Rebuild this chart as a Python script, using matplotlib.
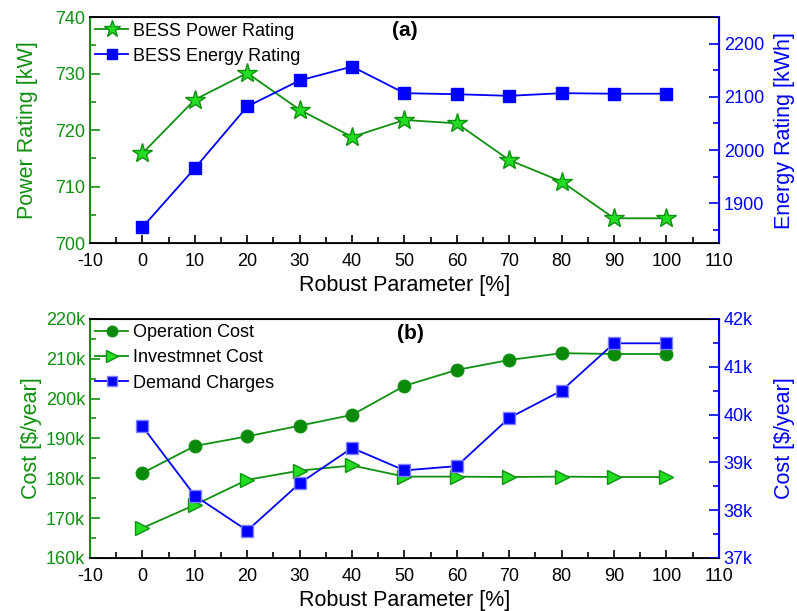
import matplotlib.pyplot as plt
from matplotlib.ticker import MultipleLocator, FuncFormatter

plt.rcParams['font.family'] = ['Liberation Sans', 'DejaVu Sans']
plt.rcParams['axes.unicode_minus'] = False

robust = [0, 10, 20, 30, 40, 50, 60, 70, 80, 90, 100]

# (a) BESS ratings
power_kw = [715.9, 725.4, 730.1, 723.6, 718.8, 721.8, 721.2, 714.7, 710.9, 704.4, 704.4]
energy_kwh = [1855, 1966, 2082, 2131, 2157, 2107, 2105, 2102, 2107, 2106, 2106]

# (b) costs, in $k/year
operation_cost = [181.3, 188.1, 190.5, 193.2, 195.9, 203.2, 207.2, 209.7, 211.4, 211.2, 211.2]
investment_cost = [167.5, 173.3, 179.6, 181.9, 183.2, 180.4, 180.4, 180.3, 180.4, 180.3, 180.3]
demand_charges = [39.75, 38.30, 37.57, 38.56, 39.30, 38.83, 38.92, 39.93, 40.50, 41.49, 41.49]

GREEN = '#109010'
LIGHT = '#22dd22'
BLUE = '#0000ff'
kfmt = FuncFormatter(lambda v, p: '%dk' % round(v))

fig = plt.figure(figsize=(7.97, 6.11), dpi=100)
ax1 = fig.add_axes([0.113, 0.602, 0.789, 0.370])
ax3 = fig.add_axes([0.113, 0.087, 0.789, 0.391])


def style(ax, twin, left_col, right_col):
    ax.spines['left'].set_color(left_col)
    ax.spines['left'].set_linewidth(1.5)
    twin.spines['right'].set_color(right_col)
    twin.spines['right'].set_linewidth(1.5)
    twin.spines['left'].set_visible(False)
    for s in ('top', 'bottom'):
        ax.spines[s].set_linewidth(1.3)
    ax.set_xlim(-10, 110)
    ax.xaxis.set_major_locator(MultipleLocator(10))
    ax.xaxis.set_minor_locator(MultipleLocator(5))
    ax.tick_params(axis='x', which='both', direction='in', labelsize=13, pad=7)
    ax.tick_params(axis='x', which='major', length=6, width=1.2)
    ax.tick_params(axis='x', which='minor', length=4, width=1.2)
    ax.tick_params(axis='y', which='both', direction='in', colors=left_col,
                   labelsize=13, width=1.2)
    ax.tick_params(axis='y', which='minor', length=4)
    ax.tick_params(axis='y', which='major', length=7)
    twin.tick_params(axis='y', which='both', direction='in', colors=right_col,
                     labelsize=13, width=1.2)
    twin.tick_params(axis='y', which='minor', length=4)
    twin.tick_params(axis='y', which='major', length=7)
    ax.set_xlabel('Robust Parameter [%]', fontsize=15.5, labelpad=4)


# ---- (a)
ax2 = ax1.twinx()
l1, = ax1.plot(robust, power_kw, color=GREEN, marker='*', markersize=15,
               markerfacecolor=LIGHT, markeredgecolor=GREEN, lw=1.3,
               label='BESS Power Rating')
l2, = ax2.plot(robust, energy_kwh, color=BLUE, marker='s', markersize=8,
               markerfacecolor=BLUE, markeredgecolor=BLUE, lw=1.3,
               label='BESS Energy Rating')
ax1.set_ylim(700, 740)
ax1.yaxis.set_major_locator(MultipleLocator(10))
ax1.yaxis.set_minor_locator(MultipleLocator(5))
ax2.set_ylim(1825, 2250)
ax2.yaxis.set_major_locator(MultipleLocator(100))
ax2.yaxis.set_minor_locator(MultipleLocator(50))
ax1.set_ylabel('Power Rating [kW]', color=GREEN, fontsize=15.5, labelpad=12)
ax2.set_ylabel('Energy Rating [kWh]', color=BLUE, fontsize=15.5, labelpad=7)
style(ax1, ax2, GREEN, BLUE)
ax1.legend(handles=[l1, l2], loc='upper left', frameon=False, fontsize=13,
           handlelength=1.8, handletextpad=0.3, borderaxespad=0.1,
           labelspacing=0.45, borderpad=0.2, markerscale=0.85)
ax1.text(0.50, 0.94, '(a)', transform=ax1.transAxes, fontsize=15,
         fontweight='bold', ha='center', va='center')

# ---- (b)
ax4 = ax3.twinx()
l3, = ax3.plot(robust, operation_cost, color=GREEN, marker='o', markersize=9,
               markerfacecolor='#0a8a0a', markeredgecolor=GREEN, lw=1.3,
               label='Operation Cost')
l4, = ax3.plot(robust, investment_cost, color=GREEN, marker='>', markersize=10,
               markerfacecolor=LIGHT, markeredgecolor=GREEN, lw=1.3,
               label='Investmnet Cost')
l5, = ax4.plot(robust, demand_charges, color=BLUE, marker='s', markersize=8,
               markerfacecolor=BLUE, markeredgecolor='#8080ff', lw=1.3,
               label='Demand Charges')
ax3.set_ylim(160, 220)
ax3.yaxis.set_major_locator(MultipleLocator(10))
ax3.yaxis.set_minor_locator(MultipleLocator(5))
ax3.yaxis.set_major_formatter(kfmt)
ax4.set_ylim(37, 42)
ax4.yaxis.set_major_locator(MultipleLocator(1))
ax4.yaxis.set_minor_locator(MultipleLocator(0.5))
ax4.yaxis.set_major_formatter(kfmt)
ax3.set_ylabel('Cost [$/year]', color=GREEN, fontsize=15.5, labelpad=3)
ax4.set_ylabel('Cost [$/year]', color=BLUE, fontsize=15.5, labelpad=15)
style(ax3, ax4, GREEN, BLUE)
ax3.legend(handles=[l3, l4, l5], loc='upper left', frameon=False, fontsize=13,
           handlelength=1.8, handletextpad=0.3, borderaxespad=0.1,
           labelspacing=0.45, borderpad=0.2, markerscale=0.85)
ax3.text(0.51, 0.94, '(b)', transform=ax3.transAxes, fontsize=15,
         fontweight='bold', ha='center', va='center')

fig.savefig('out.png', dpi=100)
